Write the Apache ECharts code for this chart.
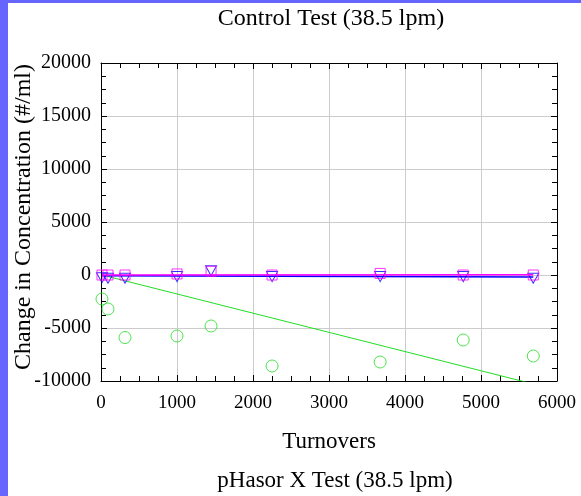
<!DOCTYPE html>
<html>
<head>
<meta charset="utf-8">
<script src="https://cdn.jsdelivr.net/npm/echarts@6/dist/echarts.min.js"></script>
<style>html,body{margin:0;padding:0;background:#fff}#c{width:581px;height:496px}</style>
</head>
<body>
<div id="c"></div>
<script>
const turnovers = [13, 92, 316, 1000, 1448, 2251, 3673, 4766, 5688];
const circleValues = [-2264, -3208, -5900, -5755, -4811, -8585, -8208, -6132, -7642];
const triangleValues = [-250, -300, -300, -150, 400, -150, -150, -150, -300];
const squareValues = [0, 0, 0, 100, 350, 0, 150, 0, 0];
const fitX = [13, 5688];
const greenFit = [0, -10280];
const blueFit = [-60, -180];
const magentaFit = [10, 30];
const xTicks = [0, 1000, 2000, 3000, 4000, 5000, 6000];
const yTicks = [-10000, -5000, 0, 5000, 10000, 15000, 20000];

const pairs = (xs, ys) => xs.map((x, i) => [x, ys[i]]);
const serif = '"Liberation Serif", "DejaVu Serif", serif';
const green = '#22dd22', blue = '#0000ff', magenta = '#ff00ff';

const chart = echarts.init(document.getElementById('c'), null, {renderer: 'canvas'});
const mkAxis = (extra) => Object.assign({
  type: 'value',
  axisLine: {show: true, onZero: false, lineStyle: {color: '#000', width: 1}},
  axisTick: {show: true, inside: true, length: 6, lineStyle: {color: '#000'}},
  minorTick: {show: true, splitNumber: 4, length: 5, lineStyle: {color: '#000'}},
  splitLine: {show: false},
  axisLabel: {show: false}
}, extra);
const plain = v => String(v);
chart.setOption({
  animation: false,
  grid: {left: 101, top: 63, right: 24, bottom: 115, containLabel: false},
  graphic: [
    {type: 'rect', shape: {x: 0, y: 0, width: 8, height: 496}, style: {fill: '#6666ff'}, z: 100},
    {type: 'rect', shape: {x: 0, y: 0, width: 581, height: 3}, style: {fill: '#6666ff'}, z: 100},
    {type: 'text', x: 331, y: 19, style: {text: 'Control Test (38.5 lpm)', font: '24px ' + serif, fill: '#000', textAlign: 'center', textVerticalAlign: 'middle'}},
    {type: 'text', x: 329, y: 442, style: {text: 'Turnovers', font: '23px ' + serif, fill: '#000', textAlign: 'center', textVerticalAlign: 'middle'}},
    {type: 'text', x: 335, y: 481, style: {text: 'pHasor X Test (38.5 lpm)', font: '23px ' + serif, fill: '#000', textAlign: 'center', textVerticalAlign: 'middle'}},
    {type: 'text', x: 24, y: 217, rotation: Math.PI / 2, style: {text: 'Change in Concentration (#/ml)', font: '24px ' + serif, fill: '#000', textAlign: 'center', textVerticalAlign: 'middle'}}
  ],
  xAxis: [
    mkAxis({min: xTicks[0], max: xTicks[xTicks.length - 1], interval: 1000, position: 'bottom',
      axisLabel: {show: true, color: '#000', fontFamily: serif, fontSize: 19, margin: 13, formatter: plain},
      splitLine: {show: true, lineStyle: {color: '#cccccc', width: 1}}}),
    mkAxis({min: xTicks[0], max: xTicks[xTicks.length - 1], interval: 1000, position: 'top'})
  ],
  yAxis: [
    mkAxis({min: yTicks[0], max: yTicks[yTicks.length - 1], interval: 5000, position: 'left',
      axisLabel: {show: true, color: '#000', fontFamily: serif, fontSize: 20, margin: 10, formatter: plain},
      splitLine: {show: true, lineStyle: {color: '#cccccc', width: 1}}}),
    mkAxis({min: yTicks[0], max: yTicks[yTicks.length - 1], interval: 5000, position: 'right'})
  ],
  series: [
    {type: 'line', data: pairs(fitX, greenFit), symbol: 'none', lineStyle: {color: green, width: 1}, clip: true, z: 2},
    {type: 'scatter', data: pairs(turnovers, circleValues), symbol: 'circle', symbolSize: 12,
      itemStyle: {color: 'rgba(0,0,0,0)', borderColor: green, borderWidth: 1}, z: 3},
    {type: 'line', data: pairs(fitX, blueFit), symbol: 'none', lineStyle: {color: blue, width: 1.5}, z: 4},
    {type: 'scatter', data: pairs(turnovers, triangleValues), symbol: 'triangle', symbolRotate: 180, symbolSize: [11, 10],
      itemStyle: {color: 'rgba(0,0,0,0)', borderColor: blue, borderWidth: 1}, z: 5},
    {type: 'line', data: pairs(fitX, magentaFit), symbol: 'none', lineStyle: {color: magenta, width: 1.5}, z: 6},
    {type: 'scatter', data: pairs(turnovers, squareValues), symbol: 'rect', symbolSize: 10,
      itemStyle: {color: 'rgba(0,0,0,0)', borderColor: magenta, borderWidth: 1}, z: 7}
  ]
});
</script>
</body>
</html>
